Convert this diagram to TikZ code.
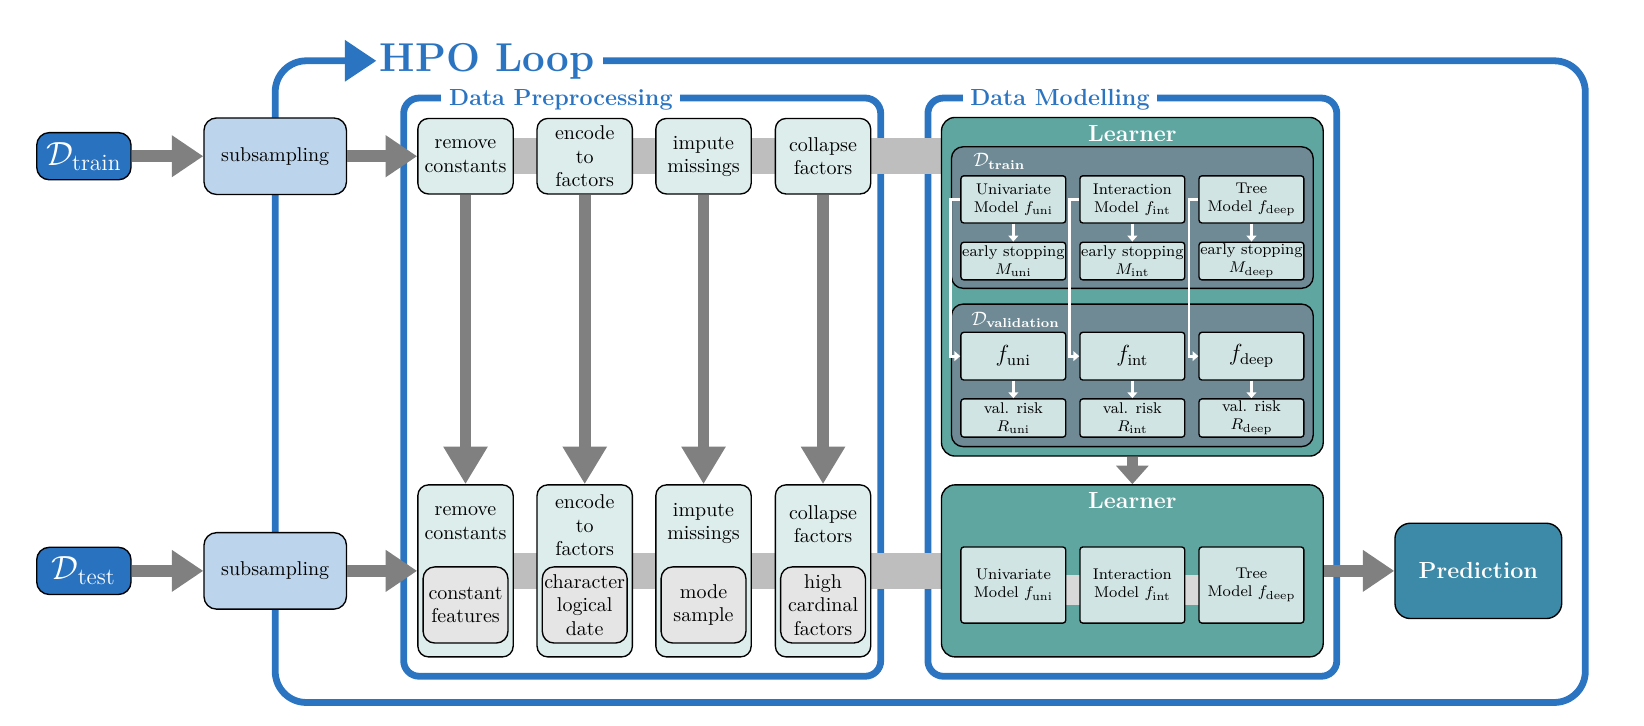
\documentclass[tikz,border=0pt]{standalone}
\usepackage{amsmath}
\usetikzlibrary{arrows.meta}
\definecolor{hpoblue}{HTML}{2A74C2}
\definecolor{dblue}{HTML}{2872C0}
\definecolor{subblue}{HTML}{BDD5EC}
\definecolor{prefill}{HTML}{DDEDEC}
\definecolor{innergrey}{HTML}{E5E5E5}
\definecolor{bandgrey}{HTML}{BEBEBE}
\definecolor{arrowgrey}{HTML}{808080}
\definecolor{learnteal}{HTML}{5FA6A0}
\definecolor{slate}{HTML}{6F8A95}
\definecolor{modelfill}{HTML}{D0E4E3}
\definecolor{predblue}{HTML}{3C89A8}
\definecolor{lbandgrey}{HTML}{D9D9D9}
\pgfdeclarelayer{bg}\pgfdeclarelayer{mid}\pgfsetlayers{bg,mid,main}
\newcommand\nodefont{\fontsize{10.3}{12}\selectfont}
\newcommand\modelfont{\fontsize{8}{9.3}\selectfont}
\begin{document}
\begin{tikzpicture}[x=0.54pt,y=-0.54pt,
  box/.style={draw=black, line width=0.7pt, align=center, inner sep=0pt},
  dnode/.style={box, rounded corners=6.5pt, fill=dblue, text=white, minimum width=48.6pt, minimum height=24.3pt, font=\fontsize{17.2}{20}\selectfont},
  subnode/.style={box, rounded corners=6.5pt, fill=subblue, minimum width=73.4pt, minimum height=39.4pt, font=\nodefont},
  prenode/.style={box, rounded corners=5.5pt, fill=prefill, minimum width=49.1pt, minimum height=38.9pt, font=\nodefont},
  prebig/.style={box, rounded corners=5.5pt, fill=prefill, minimum width=49.1pt, minimum height=88.6pt},
  innernode/.style={box, rounded corners=6pt, fill=innergrey, minimum width=43.7pt, minimum height=39.2pt, font=\nodefont},
  ptext/.style={align=center, inner sep=0pt, font=\nodefont},
  learnnode/.style={box, rounded corners=7pt, fill=learnteal, minimum width=196.6pt},
  ltitle/.style={inner sep=0pt, text=white, font=\large\bfseries},
  setnode/.style={box, rounded corners=6pt, fill=slate, minimum width=186.3pt},
  setlabel/.style={inner sep=0pt, text=white, font=\fontsize{9.6}{11}\selectfont},
  mnode/.style={box, rounded corners=1.5pt, fill=modelfill, minimum width=54pt, font=\modelfont},
  fnode/.style={box, rounded corners=1.5pt, fill=modelfill, minimum width=54pt, minimum height=24.6pt, font=\fontsize{11.5}{13}\selectfont},
  prednode/.style={box, rounded corners=8pt, fill=predblue, text=white, minimum width=85.9pt, minimum height=49.1pt, font=\large\bfseries},
  bigarrow/.style={draw=arrowgrey, line width=5.9pt, -{Triangle[length=16.2pt,width=20.5pt]}},
  varrow/.style={draw=arrowgrey, line width=6pt, -{Triangle[length=19.4pt,width=21.6pt]}},
  midarrow/.style={draw=arrowgrey, line width=6pt, -{Triangle[length=9.5pt,width=16.2pt]}},
  band/.style={draw=bandgrey, line width=18.7pt},
  lband/.style={draw=lbandgrey, line width=15.4pt},
  warrow/.style={draw=white, line width=1.4pt, -{Triangle[length=3pt,width=5pt]}},
  frame/.style={draw=hpoblue, line width=3.5pt, rounded corners=8pt},
  ftitle/.style={fill=white, text=hpoblue, inner xsep=4pt, inner ysep=2pt, font=\large\bfseries},
  hpoline/.style={draw=hpoblue, line width=3.5pt, rounded corners=16pt},
  hpotitle/.style={text=hpoblue, inner xsep=4.3pt, inner ysep=0pt, font=\huge\bfseries}
]
\useasboundingbox (0,0) rectangle (1568,692.4);

% data and subsampling
\node[dnode] (dtrain) at (80,149) {$\mathcal{D}_{\text{train}}$};
\node[dnode] (dtest) at (80,544.5) {$\mathcal{D}_{\text{test}}$};
\node[subnode] (sub1) at (262.5,149) {subsampling};
\node[subnode] (sub2) at (262.5,544.5) {subsampling};

% preprocessing, top row
\node[prenode] (pre1) at (444,149) {remove\\constants};
\node[prenode] (pre2) at (557.7,149) {encode\\to\\factors};
\node[prenode] (pre3) at (671,149) {impute\\missings};
\node[prenode] (pre4) at (785,149) {collapse\\factors};

% preprocessing, bottom row
\node[prebig] (pb1) at (444,544.5) {};
\node[prebig] (pb2) at (557.7,544.5) {};
\node[prebig] (pb3) at (671,544.5) {};
\node[prebig] (pb4) at (785,544.5) {};
\node[ptext] (pt1) at (444,499) {remove\\constants};
\node[ptext] (pt2) at (557.7,501) {encode\\to\\factors};
\node[ptext] (pt3) at (671,499) {impute\\missings};
\node[ptext] (pt4) at (785,500) {collapse\\factors};
\node[innernode] (in1) at (444,577) {constant\\features};
\node[innernode] (in2) at (557.7,577) {character\\logical\\date};
\node[innernode] (in3) at (671,577) {mode\\sample};
\node[innernode] (in4) at (785,577) {high\\cardinal\\factors};

% learner, top
\node[learnnode, minimum height=174.4pt] (learn1) at (1080,273.5) {};
\node[ltitle, anchor=base] (lt1) at (1080,134.5) {Learner};
\node[setnode, minimum height=72.9pt] (dtr) at (1080,207.5) {};
\node[setlabel, anchor=base west] (dtrl) at (928,159) {$\mathcal{D}_{\textbf{train}}$};
\node[mnode, minimum height=24.3pt] (mu) at (966.5,190.2) {Univariate\\Model $f_{\text{uni}}$};
\node[mnode, minimum height=24.3pt] (mi) at (1080,190.2) {Interaction\\Model $f_{\text{int}}$};
\node[mnode, minimum height=24.3pt] (mt) at (1193.6,190.2) {Tree\\Model $f_{\text{deep}}$};
\node[mnode, minimum height=19.4pt] (eu) at (966.5,249) {early stopping\\$M_{\text{uni}}$};
\node[mnode, minimum height=19.4pt] (ei) at (1080,249) {early stopping\\$M_{\text{int}}$};
\node[mnode, minimum height=19.4pt] (et) at (1193.6,249) {early stopping\\$M_{\text{deep}}$};
\node[setnode, minimum height=73.4pt] (dval) at (1080,358) {};
\node[setlabel, anchor=base west] (dvall) at (926,310) {$\mathcal{D}_{\textbf{validation}}$};
\node[fnode] (fu) at (966.5,339.7) {$f_{\text{uni}}$};
\node[fnode] (fi) at (1080,339.7) {$f_{\text{int}}$};
\node[fnode] (ft) at (1193.6,339.7) {$f_{\text{deep}}$};
\node[mnode, minimum height=19.7pt] (ru) at (966.5,398.7) {val. risk\\$R_{\text{uni}}$};
\node[mnode, minimum height=19.7pt] (ri) at (1080,398.7) {val. risk\\$R_{\text{int}}$};
\node[mnode, minimum height=19.7pt] (rt) at (1193.6,398.7) {val. risk\\$R_{\text{deep}}$};

\foreach \a/\b in {mu/eu, mi/ei, mt/et, fu/ru, fi/ri, ft/rt}
  \draw[warrow] (\a.south) -- (\b.north);
\foreach \a/\b in {mu/fu, mi/fi, mt/ft}
  \draw[warrow] (\a.west) -- ++(-9,0) |- (\b.west);

% learner, bottom
\node[learnnode, minimum height=88.6pt] (learn2) at (1080,544.5) {};
\node[ltitle, anchor=base] (lt2) at (1080,485) {Learner};
\coordinate (lbl) at (966.5,562.5);
\coordinate (lbr) at (1193.6,562.5);
\draw[lband] (lbl) -- (lbr);
\node[mnode, minimum height=39.2pt] (bu) at (966.5,558) {Univariate\\Model $f_{\text{uni}}$};
\node[mnode, minimum height=39.2pt] (bi) at (1080,558) {Interaction\\Model $f_{\text{int}}$};
\node[mnode, minimum height=39.2pt] (bt) at (1193.6,558) {Tree\\Model $f_{\text{deep}}$};

\node[prednode] (pred) at (1410,544.5) {Prediction};

% grey arrows
\draw[bigarrow] (dtrain.east) -- (sub1.west);
\draw[bigarrow] (sub1.east) -- (pre1.west);
\draw[bigarrow] (dtest.east) -- (sub2.west);
\draw[bigarrow] (sub2.east) -- (pb1.west);
\foreach \i in {1,...,4}
  \draw[varrow] (pre\i.south) -- (pb\i.north);
\draw[midarrow] (learn1.south) -- (learn2.north);
\draw[bigarrow] (learn2.east) -- (pred.west);

% grey bands
\begin{pgfonlayer}{mid}
\draw[band] (pre1.center) -- (pre1.center -| learn1.west);
\draw[band] (pb1.center) -- (pb1.center -| learn2.west);
\end{pgfonlayer}

% blue frames
\begin{pgfonlayer}{bg}
\draw[frame] (385,93.5) rectangle (840,645);
\node[ftitle, anchor=base] (dpt) at (535,101) {Data Preprocessing};
\draw[frame] (885,93.5) rectangle (1275,645);
\node[ftitle, anchor=base] (dmt) at (1011,101) {Data Modelling};
\coordinate (hpotip) at (359,58);
\draw[hpoline, -{Triangle[length=16.2pt,width=20.5pt]}] (sub1.north) |- (hpotip);
\node[hpotitle, anchor=base west] (hpot) at (354,68.4) {HPO Loop};
\draw[hpoline] (hpot.east |- hpotip) -- (1512,58) -- (1512,670) -- (262.5,670) -- (sub1.north);
\end{pgfonlayer}
\end{tikzpicture}
\end{document}
